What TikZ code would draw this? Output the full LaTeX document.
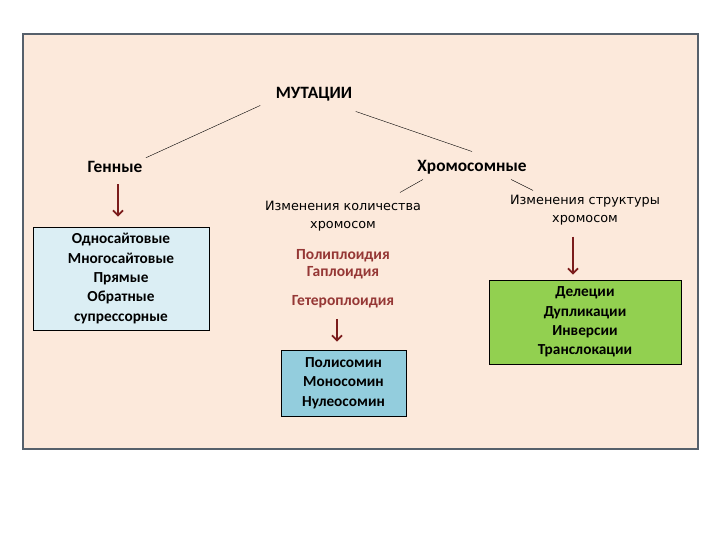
\documentclass[tikz,border=0pt]{standalone}
\usepackage{fontspec}
\setmainfont{Carlito}
\newfontfamily\thinfont{DejaVu Sans}
\usetikzlibrary{arrows.meta}
\definecolor{panel}{HTML}{FCE9DB}
\definecolor{frame}{HTML}{56606B}
\definecolor{paleblue}{HTML}{DBEEF4}
\definecolor{midblue}{HTML}{93CDDD}
\definecolor{leaf}{HTML}{92D050}
\definecolor{wine}{HTML}{953735}
\definecolor{arrowred}{HTML}{7B1C1C}
\tikzset{
  head/.style={font=\bfseries\fontsize{17.3}{20}\selectfont},
  sub/.style={font=\thinfont\fontsize{12.8}{18}\selectfont, align=center},
  kind/.style={font=\bfseries\fontsize{15.5}{17}\selectfont, text=wine, align=center},
  listbox/.style={draw=black, line width=0.8pt, align=center, font=\bfseries\fontsize{15.3}{19.3}\selectfont},
  arr/.style={draw=arrowred, line width=1.8pt, -{Straight Barb[length=5pt,width=10pt]}}
}
\begin{document}
\begin{tikzpicture}[x=1pt,y=-1pt]
\useasboundingbox (0,0) rectangle (720,540);
\draw[frame, line width=2.4pt, fill=panel] (23,34) rectangle (698,449);
% top levels
\node[head] (mut) at (314,94) {МУТАЦИИ};
\node[head] (gen) at (115,167) {Генные};
\node[head] (hrom) at (472,167) {Хромосомные};
\draw ([xshift=-12pt,yshift=-1pt]mut.south west) -- (gen.north east);
\draw ([yshift=-7pt]mut.south east) -- ([yshift=5pt]hrom.north);
% chromosome branches
\node[sub] (kol) at (343,216) {Изменения количества\\хромосом};
\node[sub] (str) at (585,210) {Изменения структуры\\хромосом};
\draw ([xshift=9pt,yshift=-2pt]hrom.south west) -- ([xshift=57pt,yshift=5pt]kol.north);
\draw ([xshift=-19pt,yshift=-2pt]hrom.south east) -- ([xshift=-52pt,yshift=1pt]str.north);
\node[kind] (poly) at (343,264.5) {Полиплоидия\\Гаплоидия};
\node[kind] (het) at (343,302) {Гетероплоидия};
% boxes
\node[listbox, fill=paleblue, minimum width=176pt, minimum height=103pt] (odn) at (121,278.5)
  {Односайтовые\\Многосайтовые\\Прямые\\Обратные\\супрессорные};
\node[listbox, fill=midblue, minimum width=125pt, minimum height=66pt] (som) at (343.5,383)
  {Полисомин\\Моносомин\\Нулеосомин};
\node[listbox, fill=leaf, minimum width=192pt, minimum height=84pt] (del) at (585,322)
  {Делеции\\Дупликации\\Инверсии\\Транслокации};
% arrows
\draw[arr] ([xshift=3pt,yshift=-8pt]gen.south) -- ([xshift=-3pt,yshift=10pt]odn.north);
\draw[arr] ([xshift=-6pt,yshift=-7pt]het.south) -- ([xshift=-6.5pt,yshift=8pt]som.north);
\draw[arr] ([xshift=-12pt,yshift=-8pt]str.south) -- ([xshift=-12pt,yshift=5pt]del.north);
\end{tikzpicture}
\end{document}
